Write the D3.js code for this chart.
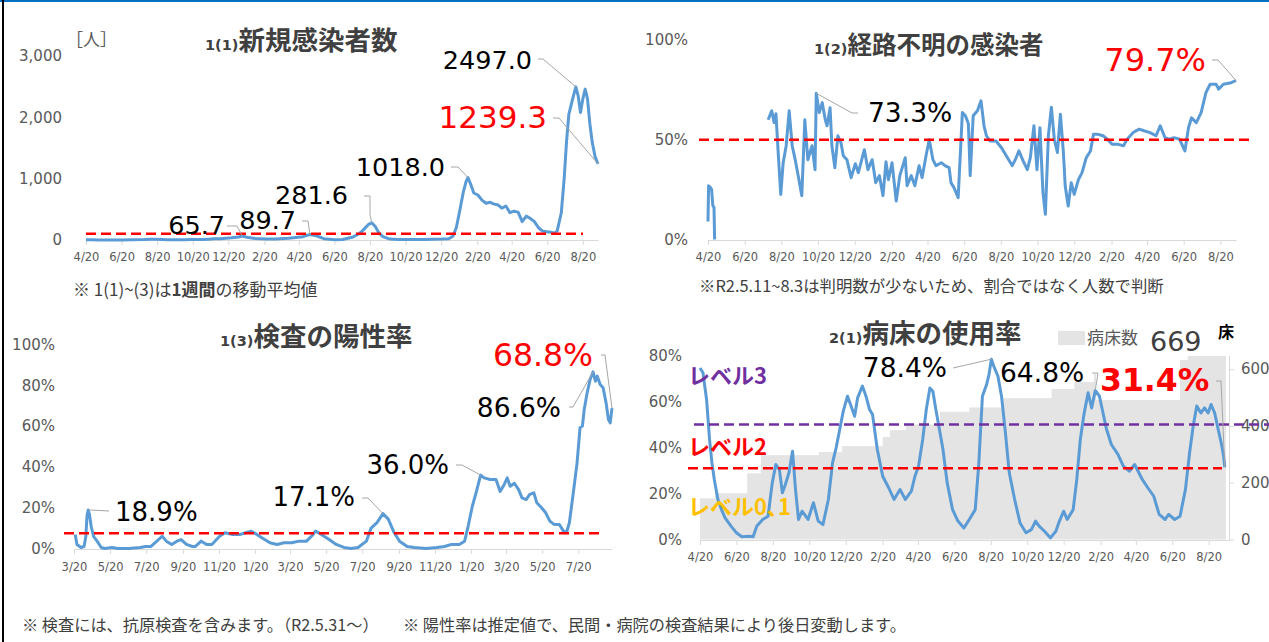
<!DOCTYPE html>
<html>
<head>
<meta charset="utf-8">
<script src="https://cdn.jsdelivr.net/npm/d3@7"></script>
<style>
	body { margin: 0; background: #fff; }
	svg { display: block; }
</style>
</head>
<body>
<script>
// day offsets are counted from each panel's start date
var startApr = '2020-04-20',
	startMar = '2020-03-20';

var ticksApr = ['2020-04-20', '2020-06-20', '2020-08-20', '2020-10-20', '2020-12-20', '2021-02-20', '2021-04-20',
	'2021-06-20', '2021-08-20', '2021-10-20', '2021-12-20', '2022-02-20', '2022-04-20', '2022-06-20', '2022-08-20'];
var ticksMar = ['2020-03-20', '2020-05-20', '2020-07-20', '2020-09-20', '2020-11-20', '2021-01-20', '2021-03-20',
	'2021-05-20', '2021-07-20', '2021-09-20', '2021-11-20', '2022-01-20', '2022-03-20', '2022-05-20', '2022-07-20'];

// 1(1) new cases, 7 day average
var casesDays = [0, 10, 20, 40, 60, 80, 100, 110, 120, 130, 140, 150, 160, 170, 180, 190, 200, 210, 220, 230, 250, 262,
	268, 276, 290, 310, 325, 347, 360, 372, 384, 396, 408, 427, 440, 458, 466, 472, 478, 484, 490, 496, 502, 509, 521,
	535, 550, 565, 580, 595, 610, 622, 629, 635, 641, 647, 652, 655, 660, 665, 672, 679, 686, 693, 700, 707, 713, 720,
	727, 734, 741, 748, 755, 762, 769, 776, 783, 790, 797, 804, 808, 815, 820, 824, 828, 834, 840, 844, 848, 852, 856,
	860, 864, 868, 873, 878];
var casesValues = [5, 3, 1, 0, 1, 3, 8, 14, 11, 8, 6, 5, 4, 6, 10, 8, 10, 14, 20, 20, 35, 50,
	65.7, 45, 25, 15, 15, 27, 40, 54, 89.7, 65, 21, 5, 8, 50, 90, 130, 190, 250, 281.6, 220, 120, 54, 15,
	10, 8, 8, 10, 14, 15, 20, 60, 200, 480, 780, 960, 1018, 900, 766, 734, 650, 600, 615, 585, 570, 520, 555,
	445, 470, 455, 300, 390, 350, 300, 200, 145, 135, 125, 110, 150, 440, 1000, 1600, 2050, 2280, 2497, 2350, 2080, 2300, 2460,
	2300, 1900, 1600, 1360, 1239.3];
var casesTicks = [0, 1000, 2000, 3000];
var casesLimit = 100;

// 1(2) share of cases with unknown route (gap = judged by count)
var unknownDays = [0, 1, 4, 6, 8, 10, 11, 12, 100, 106, 110, 113, 117, 121, 125, 130, 135, 140, 145, 150, 156, 161, 166,
	173, 178, 180, 185, 190, 195, 198, 203, 206, 211, 216, 221, 225, 231, 238, 245, 250, 260, 266, 273, 279, 285, 291,
	296, 300, 306, 313, 319, 328, 331, 338, 344, 351, 356, 363, 368, 374, 379, 388, 394, 401, 404, 409, 416, 423, 428,
	433, 436, 441, 448, 454, 459, 463, 469, 479, 488, 498, 506, 511, 517, 524, 531, 536, 542, 547, 552, 557, 561, 566,
	571, 576, 581, 586, 591, 594, 599, 604, 609, 616, 622, 629, 636, 641, 647, 657, 664, 672, 682, 691, 697, 707, 717,
	725, 735, 745, 752, 760, 767, 775, 784, 789, 793, 799, 804, 812, 820, 828, 835, 845, 849, 857, 870, 878];
var unknownRate = [9, 27, 26, 25, 17, 16, 0, null, 60, 64.5, 58.6, 63, 42, 22.6, 38.5, 47, 64.5, 47, 40, 32, 22, 60, 40,
	47, 35, 73.3, 63.6, 68.6, 60, 57, 66, 47, 36, 52, 48.6, 42, 40, 31, 38, 33.5, 45, 35, 40, 28.5, 32, 22,
	39, 30, 38.5, 19.3, 32, 41, 27, 32, 27, 37, 31, 42.7, 50, 40, 37, 38.5, 37, 36, 28.5, 26, 21, 63.6, 62,
	58, 32, 62, 64.5, 69.5, 57, 52, 49.4, 49.4, 46, 41, 37, 40, 44.4, 39.4, 35, 41, 57, 35, 56, 23.5, 12.6, 52,
	66.3, 50, 43.6, 62.8, 43.6, 26.8, 16.8, 28.5, 22.6, 30, 33.5, 41, 44.4, 52.8, 52.8, 52, 50.3, 47.7, 47.7, 47, 50.3, 53.6, 55.3,
	54.5, 53.6, 52, 57, 51, 50.3, 51, 50.3, 47, 44.4, 56, 61, 58.6, 63.6, 73.6, 77.8, 77.8, 75.4, 77.8, 78.6, 79.7];
var unknownTicks = [0, 50, 100];
var unknownLimit = 50;

// 1(3) test positive rate
var positiveDays = [2, 5, 12, 17, 20, 22, 24, 26, 29, 33, 39, 46, 52, 64, 74, 93, 112, 121, 130, 140, 149, 156, 165, 174,
	181, 190, 200, 205, 215, 224, 233, 246, 255, 268, 281, 290, 299, 309, 318, 331, 343, 355, 368, 380, 393, 404, 408,
	418, 431, 443, 456, 468, 480, 494, 502, 512, 522, 531, 541, 550, 563, 575, 595, 613, 626, 638, 651, 660, 666, 673,
	680, 687, 693, 703, 713, 720, 727, 732, 737, 744, 751, 757, 764, 770, 777, 782, 790, 797, 804, 811, 820, 827, 832,
	837, 845, 850, 855, 859, 862, 867, 872, 877, 881, 884, 889, 894, 899, 903, 906, 909];
var positiveRate = [6.9, 2, 0.5, 1, 5.9, 16, 18.9, 17, 10.9, 6, 3.6, 0.5, 0, 0.5, 0, 0, 0.5, 1, 1, 3.6, 6, 3.6, 2, 3.6,
	4.4, 2, 1, 1, 3.6, 2, 2, 6, 7.7, 6.9, 6.9, 7.7, 8.5, 6.9, 5.2, 2.8, 2, 2.8, 2.8, 3.6, 3.6, 6.9, 8.5,
	6.9, 4.4, 2, 0.5, 0, 0.5, 3.6, 10, 12.7, 17.1, 14.4, 7.7, 3.6, 1, 0.5, 0, 0.5, 1, 2, 2, 3.6, 11, 20.7,
	28, 36.0, 34.6, 33.8, 33.8, 28, 31.4, 34.6, 30.5, 32, 29, 24.8, 24, 26.5, 27.3, 22.4, 20, 17.5, 13.4, 11.8, 11.8, 8.5, 7.7,
	12.6, 30.5, 42, 59.2, 60, 68, 76.3, 82.8, 86.6, 82, 84.5, 80.4, 78.8, 71.4, 63.2, 61.6, 68.8];
var positiveTicks = [0, 20, 40, 60, 80, 100];
var positiveLimit = 7.5;

// 2(1) bed occupancy and number of beds
var bedUseDays = [0, 5, 11, 16, 20, 24, 30, 36, 42, 52, 61, 70, 83, 89, 95, 105, 114, 121, 127, 133, 138, 143, 149, 155,
	160, 165, 171, 181, 190, 198, 206, 215, 222, 228, 234, 240, 247, 253, 259, 264, 272, 278, 284, 289, 297, 306, 316,
	325, 335, 344, 354, 360, 366, 373, 379, 385, 390, 395, 401, 407, 414, 423, 432, 442, 451, 461, 467, 473, 480, 484,
	488, 492, 499, 505, 511, 518, 527, 536, 546, 555, 562, 568, 577, 587, 596, 602, 609, 615, 625, 631, 637, 643, 650,
	656, 662, 669, 675, 681, 689, 700, 709, 719, 728, 735, 741, 750, 760, 769, 779, 785, 795, 804, 813, 820, 826, 832,
	839, 845, 851, 856, 862, 868, 873, 877, 879];
var bedUseRate = [74.6, 72.5, 60.9, 43.5, 33.3, 26, 17.4, 13, 9.4, 5.8, 2.9, 1.2, 1.4, 1.2, 5.8, 8.7, 10.1, 24.6, 32.6, 30.4, 20.3, 23.9, 29, 38.4,
	21.7, 8.7, 12.3, 8.7, 16, 8, 6.5, 17.4, 33.3, 39.9, 47.8, 55.8, 62.3, 58, 53.6, 61.6, 66.7, 62.3, 56.5, 54.3, 39.1, 27.5, 22.5,
	17.4, 21.7, 17.4, 21, 27.5, 31.9, 43.5, 56.5, 65.9, 64.5, 56.5, 47.8, 39.1, 24.6, 13, 8, 5, 8.7, 13, 33.3, 62.3, 67.4, 71.7,
	78.4, 75.4, 71, 62.3, 47.8, 29, 17.4, 7.2, 2.9, 4.3, 8, 5.8, 3.6, 0.7, 3.6, 8, 12.3, 8.7, 13, 26, 43.5, 54.3, 63.8,
	57.2, 64.8, 62.3, 55, 47.8, 41.3, 37, 31.9, 29.7, 32.6, 29, 26, 22.5, 18.8, 10.9, 8.7, 10.9, 8.7, 10.1, 21.7, 37.7, 49.3, 58,
	55, 57.2, 55, 58.7, 55, 47.8, 42, 36.2, 31.4];
var bedDays = [0, 25, 79, 102, 199, 238, 306, 318, 345, 402, 451, 508, 589, 627, 660, 715, 754, 786, 817, 880];
var bedCounts = [145, 163, 233, 297, 308, 329, 361, 385, 405, 450, 465, 498, 530, 555, 585, 600, 620, 632, 646];
var bedNow = 669;
var bedUseTicks = [0, 20, 40, 60, 80];
var bedTicks = [0, 200, 400, 600];
var level3 = 50, level2 = 31;

var W = 1269, H = 642,
	NUM = "'DejaVu Sans', sans-serif",
	JP = "'Noto Sans CJK JP', sans-serif",
	BLUE = '#5b9bd5',
	AXIS = '#d9d9d9',
	TICK = '#595959',
	TITLE = '#404040';

var parse = d3.timeParse('%Y-%m-%d'),
	fmtTick = d3.timeFormat('%-m/%-d'),
	one = d3.format('.1f');

var svg = d3.select('body').append('svg')
	.attr('width', W)
	.attr('height', H);

svg.append('rect').attr('width', W).attr('height', H).attr('fill', '#fff');
svg.append('line').attr('x1', 0).attr('x2', W).attr('y1', 1).attr('y2', 1)
	.attr('stroke', '#0070c0').attr('stroke-width', 2);
svg.append('line').attr('x1', 3).attr('x2', 3).attr('y1', 0).attr('y2', H)
	.attr('stroke', '#000').attr('stroke-width', 2);

function toPoints(start, days, vals) {
	var s = parse(start);
	return days.map(function(d, i) {
		return { date: d3.timeDay.offset(s, d), day: d, v: vals[i] };
	});
}

function timeScale(start, lastDay, x0, x1) {
	var s = parse(start);
	return d3.scaleTime().domain([s, d3.timeDay.offset(s, lastDay)]).range([x0, x1]);
}

function bottomAxis(x, y0, ticks, pad) {
	var g = svg.append('g')
		.attr('transform', 'translate(0,' + y0 + ')')
		.call(d3.axisBottom(x)
			.tickValues(ticks.map(parse))
			.tickFormat(fmtTick)
			.tickSize(5)
			.tickSizeOuter(0)
			.tickPadding(pad));
	g.selectAll('path, line').attr('stroke', AXIS);
	g.selectAll('text').attr('fill', TICK).style('font', '11.5px ' + NUM);
	return g;
}

function leftLabels(y, xRight, ticks, fmt) {
	var g = svg.append('g')
		.attr('transform', 'translate(' + xRight + ',0)')
		.call(d3.axisLeft(y).tickValues(ticks).tickFormat(fmt).tickSize(0).tickPadding(0));
	g.select('.domain').remove();
	g.selectAll('text').attr('fill', TICK).style('font', '15px ' + NUM);
}

function title(x, yc, num, text, size) {
	var t = svg.append('text')
		.attr('x', x)
		.attr('y', yc + 0.38 * size)
		.attr('fill', TITLE)
		.attr('font-weight', 'bold');
	t.append('tspan').style('font', 'bold 14.5px ' + NUM).text(num);
	t.append('tspan').style('font', 'bold ' + size + 'px ' + JP).text(text);
}

function dashed(x1, x2, y, color) {
	svg.append('line')
		.attr('x1', x1).attr('x2', x2).attr('y1', y).attr('y2', y)
		.attr('stroke', color)
		.attr('stroke-width', 2.5)
		.attr('stroke-dasharray', '10,5');
}

function drawLine(pts, x, y) {
	svg.append('path')
		.datum(pts)
		.attr('fill', 'none')
		.attr('stroke', BLUE)
		.attr('stroke-width', 3)
		.attr('stroke-linejoin', 'round')
		.attr('d', d3.line()
			.defined(function(d) { return d.v != null; })
			.x(function(d) { return x(d.date); })
			.y(function(d) { return y(d.v); }));
}

function find(pts, day) {
	return pts.filter(function(p) { return p.day === day; })[0];
}

// label with leader line to a data point
function callout(pts, x, y, day, o) {
	var p = find(pts, day),
		target = [x(p.date), y(p.v)];
	svg.append('path')
		.attr('d', d3.line()(o.path.concat([target])))
		.attr('fill', 'none')
		.attr('stroke', '#a6a6a6')
		.attr('stroke-width', 1);
	svg.append('text')
		.attr('x', o.x)
		.attr('y', o.y + 0.36 * o.size)
		.attr('text-anchor', o.anchor || 'end')
		.attr('fill', o.color || '#000')
		.attr('font-weight', o.bold ? 'bold' : 'normal')
		.style('font-family', NUM)
		.style('font-size', o.size + 'px')
		.text(one(p.v) + (o.pct ? '%' : ''));
}

function note(x, yc, size, parts) {
	var t = svg.append('text')
		.attr('x', x)
		.attr('y', yc + 0.38 * size)
		.attr('fill', TITLE)
		.style('font-family', JP)
		.style('font-size', size + 'px');
	parts.forEach(function(p) {
		t.append('tspan').attr('font-weight', p[1] ? 'bold' : 'normal').text(p[0]);
	});
}

// ---- 1(1) new cases
(function() {
	var pts = toPoints(startApr, casesDays, casesValues),
		x = timeScale(startApr, 878, 86, 598),
		y = d3.scaleLinear().domain([0, 3000]).range([240, 56]);

	bottomAxis(x, 240, ticksApr, 8);
	leftLabels(y, 62, casesTicks, d3.format(','));
	title(205, 40, '1(1)', '新規感染者数', 26.5);
	svg.append('text').attr('x', 66).attr('y', 46).attr('fill', TICK)
		.style('font', '17px ' + JP).text('［人］');

	drawLine(pts, x, y);
	dashed(86, 583, y(casesLimit), '#ff0000');

	callout(pts, x, y, 840, { x: 532, y: 60, size: 25.5, path: [[538, 59], [543, 59]] });
	callout(pts, x, y, 878, { x: 547, y: 117, size: 31, color: '#ff0000', path: [[553, 118], [559, 118]] });
	callout(pts, x, y, 655, { x: 445, y: 167, size: 25.5, path: [[451, 167], [458, 167]] });
	callout(pts, x, y, 490, { x: 348, y: 195, size: 25.5, path: [[364, 196], [370, 196], [370, 215]] });
	callout(pts, x, y, 384, { x: 296, y: 220, size: 25.5, path: [[302, 221], [308, 221]] });
	callout(pts, x, y, 268, { x: 225, y: 225, size: 25.5, path: [[227, 226], [237, 226]] });

	note(73, 290, 17, [['※ 1(1)~(3)は'], ['1週間', true], ['の移動平均値']]);
})();

// ---- 1(2) unknown route
(function() {
	var pts = toPoints(startApr, unknownDays, unknownRate),
		x = timeScale(startApr, 878, 708, 1236),
		y = d3.scaleLinear().domain([0, 100]).range([239.5, 40]);

	bottomAxis(x, 240, ticksApr, 8);
	leftLabels(y, 688, unknownTicks, function(d) { return d + '%'; });
	title(814, 45, '1(2)', '経路不明の感染者', 24.5);

	drawLine(pts, x, y);
	dashed(699, 1251, y(unknownLimit), '#ff0000');

	callout(pts, x, y, 180, { x: 868, y: 112, size: 26.5, anchor: 'start', pct: true, path: [[858, 113], [852, 113]] });
	callout(pts, x, y, 878, { x: 1206, y: 59, size: 32, color: '#ff0000', pct: true, path: [[1212, 60], [1218, 60]] });

	note(699, 286, 16.4, [['※R2.5.11~8.3は判明数が少ないため、割合ではなく人数で判断']]);
})();

// ---- 1(3) positive rate
(function() {
	var pts = toPoints(startMar, positiveDays, positiveRate),
		x = timeScale(startMar, 909.5, 74, 612),
		y = d3.scaleLinear().domain([0, 100]).range([548.5, 344.5]);

	bottomAxis(x, 549, ticksMar, 9);
	leftLabels(y, 55, positiveTicks, function(d) { return d + '%'; });
	title(220, 336, '1(3)', '検査の陽性率', 26.5);

	drawLine(pts, x, y);
	dashed(64, 603, y(positiveLimit), '#ff0000');

	callout(pts, x, y, 24, { x: 115, y: 512, size: 26, anchor: 'start', pct: true, path: [[109, 511]] });
	callout(pts, x, y, 522, { x: 355, y: 497, size: 26, pct: true, path: [[362, 498], [368, 498]] });
	callout(pts, x, y, 687, { x: 449, y: 465, size: 26, pct: true, path: [[456, 465], [462, 465]] });
	callout(pts, x, y, 877, { x: 561, y: 407, size: 26.5, pct: true, path: [[569, 407], [573, 407]] });
	callout(pts, x, y, 909, { x: 593, y: 355, size: 31.5, color: '#ff0000', pct: true, path: [[601, 355], [605, 355]] });
})();

// ---- 2(1) bed occupancy
(function() {
	var pts = toPoints(startApr, bedUseDays, bedUseRate),
		x = timeScale(startApr, 886, 700, 1229),
		y = d3.scaleLinear().domain([0, 80]).range([539.5, 355.5]),
		yBed = d3.scaleLinear().domain([0, 648]).range([539.5, 355.5]),
		s = parse(startApr);

	svg.append('g').selectAll('rect')
		.data(bedCounts)
		.enter().append('rect')
		.attr('x', function(d, i) { return x(d3.timeDay.offset(s, bedDays[i])); })
		.attr('width', function(d, i) { return x(d3.timeDay.offset(s, bedDays[i + 1])) - x(d3.timeDay.offset(s, bedDays[i])) + 0.5; })
		.attr('y', function(d) { return yBed(d); })
		.attr('height', function(d) { return yBed(0) - yBed(d); })
		.attr('fill', '#e4e4e4');

	// white box of the 64.8% / 31.4% labels over the bars
	svg.append('rect').attr('x', 1096).attr('y', 360).attr('width', 84).attr('height', 40).attr('fill', '#fff');

	bottomAxis(x, 540, ticksApr, 8);
	leftLabels(y, 682, bedUseTicks, function(d) { return d + '%'; });

	var r = svg.append('g')
		.attr('transform', 'translate(1229,0)')
		.call(d3.axisRight(yBed).tickValues(bedTicks).tickSize(5).tickSizeOuter(0).tickPadding(7));
	r.selectAll('path, line').attr('stroke', AXIS);
	r.selectAll('text').attr('fill', TICK).style('font', '15px ' + NUM);

	title(829, 333, '2(1)', '病床の使用率', 26.5);

	// legend
	svg.append('rect').attr('x', 1058).attr('y', 331).attr('width', 27).attr('height', 14).attr('fill', '#e4e4e4');
	svg.append('text').attr('x', 1087).attr('y', 344).attr('fill', TICK)
		.style('font', '17px ' + JP).text('病床数');
	svg.append('text').attr('x', 1150).attr('y', 351).attr('fill', TITLE)
		.style('font', '27px ' + NUM).text(bedNow);
	svg.append('text').attr('x', 1218).attr('y', 338).attr('fill', '#000')
		.style('font', 'bold 16px ' + JP).text('床');

	drawLine(pts, x, y);
	dashed(694, 1269, y(level3), '#7030a0');
	dashed(688, 1222, y(level2), '#ff0000');

	[['レベル3', '#7030a0', 376], ['レベル2', '#ff0000', 447], ['レベル0､1', '#ffc000', 507]].forEach(function(l) {
		svg.append('text').attr('x', 688).attr('y', l[2] + 8).attr('fill', l[1])
			.style('font', 'bold 22px ' + JP).text(l[0]);
	});

	callout(pts, x, y, 488, { x: 947, y: 367, size: 26.5, pct: true, path: [[953, 368]] });
	callout(pts, x, y, 662, { x: 1000, y: 372, size: 26.5, anchor: 'start', pct: true, path: [[1092, 373], [1098, 373]] });
	callout(pts, x, y, 879, { x: 1100, y: 380, size: 31.5, bold: true, color: '#ff0000', anchor: 'start', pct: true,
		path: [[1216, 381], [1221, 381]] });
})();

note(22, 625, 16.2, [['※ 検査には、抗原検査を含みます。（R2.5.31～）']]);
note(403, 625, 16.2, [['※ 陽性率は推定値で、民間・病院の検査結果により後日変動します。']]);
</script>
</body>
</html>
